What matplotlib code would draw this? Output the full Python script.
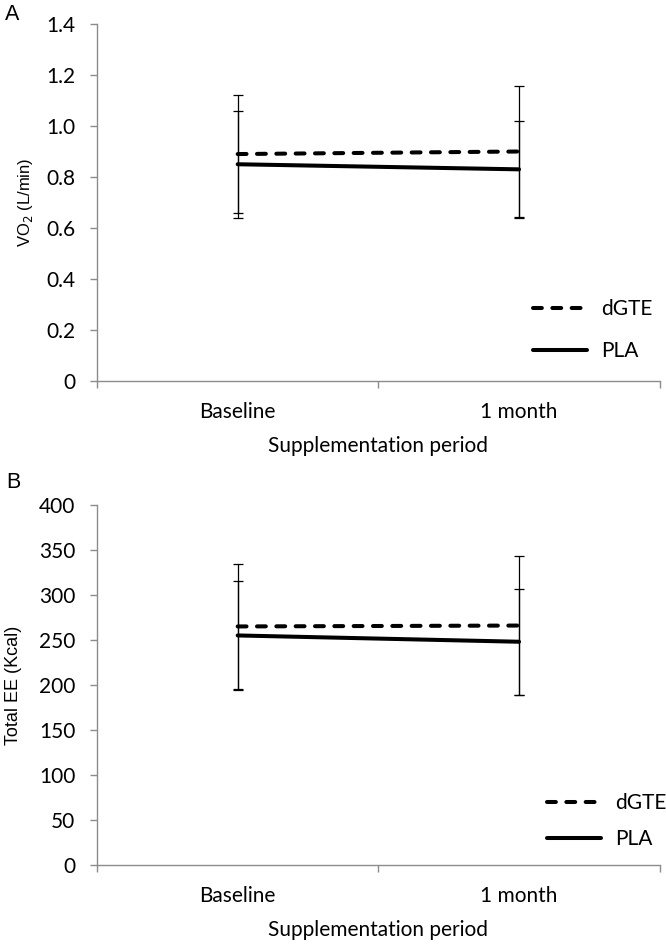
import matplotlib
matplotlib.use("Agg")
import matplotlib.pyplot as plt
from matplotlib.lines import Line2D

categories = ["Baseline", "1 month"]

vo2_dgte = [0.89, 0.90]
vo2_dgte_err = [0.23, 0.255]
vo2_pla = [0.85, 0.83]
vo2_pla_err = [0.21, 0.19]

ee_dgte = [265, 266]
ee_dgte_err = [69, 77]
ee_pla = [255, 248]
ee_pla_err = [61, 59]

vo2_ticks = [0, 0.2, 0.4, 0.6, 0.8, 1.0, 1.2, 1.4]
vo2_ticklabels = ["0", "0.2", "0.4", "0.6", "0.8", "1.0", "1.2", "1.4"]
ee_ticks = [0, 50, 100, 150, 200, 250, 300, 350, 400]

series_names = ["dGTE", "PLA"]

CAL = ["Lato", "DejaVu Sans"]
ARIAL = ["Liberation Sans", "DejaVu Sans"]
GRAY = "#8c8c8c"

fig = plt.figure(figsize=(6.66, 9.5), dpi=100)
axA = fig.add_axes([0.1456, 0.599, 0.845, 0.3757])
axB = fig.add_axes([0.1456, 0.0895, 0.845, 0.379])

def style(ax, ticks, ticklabels, ylim):
    x = list(range(len(categories)))
    ax.set_xlim(-0.5, len(categories) - 0.5)
    ax.set_ylim(*ylim)
    for s in ["top", "right"]:
        ax.spines[s].set_visible(False)
    for s in ["left", "bottom"]:
        ax.spines[s].set_color(GRAY)
        ax.spines[s].set_linewidth(1.0)
    ax.set_yticks(ticks)
    ax.set_yticklabels(ticklabels, fontfamily=CAL, fontsize=15)
    ax.tick_params(axis="y", direction="out", length=5, color=GRAY, width=1, pad=10.5)
    ax.set_xticks(x)
    ax.set_xticklabels(categories, fontfamily=CAL, fontsize=15)
    ax.tick_params(axis="x", which="major", length=0, pad=15)
    ax.set_xticks([-0.5, 0.5, 1.5], minor=True)
    ax.tick_params(axis="x", which="minor", direction="out", length=5, color=GRAY, width=1)
    ax.set_xlabel("Supplementation period", fontfamily=CAL, fontsize=15, labelpad=10)

def draw(ax, dg, dge, pl, ple):
    x = list(range(len(categories)))
    ax.errorbar(x, dg, yerr=dge, fmt="none", ecolor="black", elinewidth=0.9, capsize=3.8, capthick=0.9, zorder=2)
    ax.errorbar(x, pl, yerr=ple, fmt="none", ecolor="black", elinewidth=0.9, capsize=3.8, capthick=0.9, zorder=2)
    ax.plot(x, dg, color="black", lw=2.9, linestyle=(0, (2.2, 2.6)), dash_capstyle="round", zorder=3)
    ax.plot(x, pl, color="black", lw=2.9, solid_capstyle="round", zorder=3)

def legend(ax, anchor, spacing):
    handles = [Line2D([], [], color="black", lw=2.9, linestyle=(0, (2.2, 2.6)), dash_capstyle="round"),
               Line2D([], [], color="black", lw=2.9, solid_capstyle="round")]
    ax.legend(handles, series_names, loc="center left", bbox_to_anchor=anchor, frameon=False,
              prop={"family": CAL, "size": 15}, handlelength=2.6, handletextpad=0.7,
              labelspacing=spacing, borderpad=0, borderaxespad=0)

style(axA, vo2_ticks, vo2_ticklabels, (0, 1.4))
draw(axA, vo2_dgte, vo2_dgte_err, vo2_pla, vo2_pla_err)
axA.set_ylabel("VO$_2$ (L/min)", fontfamily=ARIAL, fontsize=12, labelpad=8)
legend(axA, (0.774, 0.143), 1.05)

style(axB, ee_ticks, [str(t) for t in ee_ticks], (0, 400))
draw(axB, ee_dgte, ee_dgte_err, ee_pla, ee_pla_err)
axB.set_ylabel("Total EE (Kcal)", fontfamily=ARIAL, fontsize=13, labelpad=12)
legend(axB, (0.799, 0.122), 0.75)

fig.text(0.008, 0.985, "A", fontfamily=ARIAL, fontsize=15.5, va="center", ha="left")
fig.text(0.010, 0.492, "B", fontfamily=ARIAL, fontsize=15.5, va="center", ha="left")

fig.savefig("out.png", dpi=100)
